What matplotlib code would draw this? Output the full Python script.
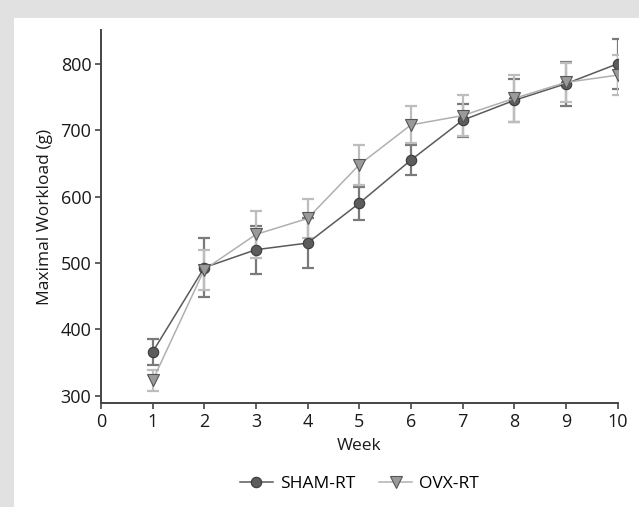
import numpy as np
import matplotlib
matplotlib.use("Agg")
import matplotlib.pyplot as plt
from matplotlib.patches import Rectangle

plt.rcParams["font.family"] = ["Open Sans", "DejaVu Sans"]

# ---- data ----
weeks = [1, 2, 3, 4, 5, 6, 7, 8, 9, 10]
sham_mean = [366, 493, 520, 530, 590, 655, 715, 745, 770, 800]
sham_err = [20, 45, 36, 38, 25, 23, 25, 32, 33, 38]
ovx_mean = [323, 490, 543, 567, 648, 708, 722, 748, 772, 783]
ovx_err = [16, 30, 35, 30, 30, 28, 31, 35, 30, 30]

fig = plt.figure(figsize=(6.39, 5.07), dpi=100, facecolor="#e1e1e1")
# white inner panel (grey frame on top and left)
fig.patches.append(Rectangle((14 / 639, 0), 1, 1 - 18 / 507,
                             transform=fig.transFigure, facecolor="white",
                             edgecolor="none", zorder=-1))

ax = fig.add_axes([101 / 639, 1 - 403 / 507, 516.5 / 639, 373 / 507])
ax.set_facecolor("none")

# SHAM-RT
ax.errorbar(weeks, sham_mean, yerr=sham_err, fmt="none", ecolor="#7a7a7a",
            elinewidth=1.6, capsize=4, capthick=1.6, zorder=2)
ax.plot(weeks, sham_mean, "-o", color="#5a5a5a", lw=1.1, ms=7.5,
        mfc="#5c5c5c", mec="#3a3a3a", mew=0.8, zorder=3, label="SHAM-RT")

# OVX-RT
ax.errorbar(weeks, ovx_mean, yerr=ovx_err, fmt="none", ecolor="#bdbdbd",
            elinewidth=1.6, capsize=4, capthick=1.6, zorder=2)
ax.plot(weeks, ovx_mean, "-v", color="#b0b0b0", lw=1.1, ms=8,
        mfc="#9a9a9a", mec="#555555", mew=0.8, zorder=4, label="OVX-RT")

ax.set_xlim(0, 10)
ax.set_ylim(289, 851)
ax.set_xticks(range(0, 11))
ax.set_yticks([300, 400, 500, 600, 700, 800])

for side in ("top", "right"):
    ax.spines[side].set_visible(False)
for side in ("left", "bottom"):
    ax.spines[side].set_color("#444444")
    ax.spines[side].set_linewidth(1.4)

ax.tick_params(colors="#444444", width=1.2, length=4, labelsize=13,
               labelcolor="#1a1a1a", pad=3)
ax.set_xlabel("Week", fontsize=12.5, color="#1a1a1a", labelpad=5)
ax.set_ylabel("Maximal Workload (g)", fontsize=12.5, color="#1a1a1a",
              labelpad=5)

ax.legend(loc="center", bbox_to_anchor=(0.5, -0.218), ncol=2, frameon=False,
          fontsize=12.5, handlelength=1.9, handletextpad=0.4,
          columnspacing=1.4)

fig.savefig("out.png", dpi=100, facecolor=fig.get_facecolor())
